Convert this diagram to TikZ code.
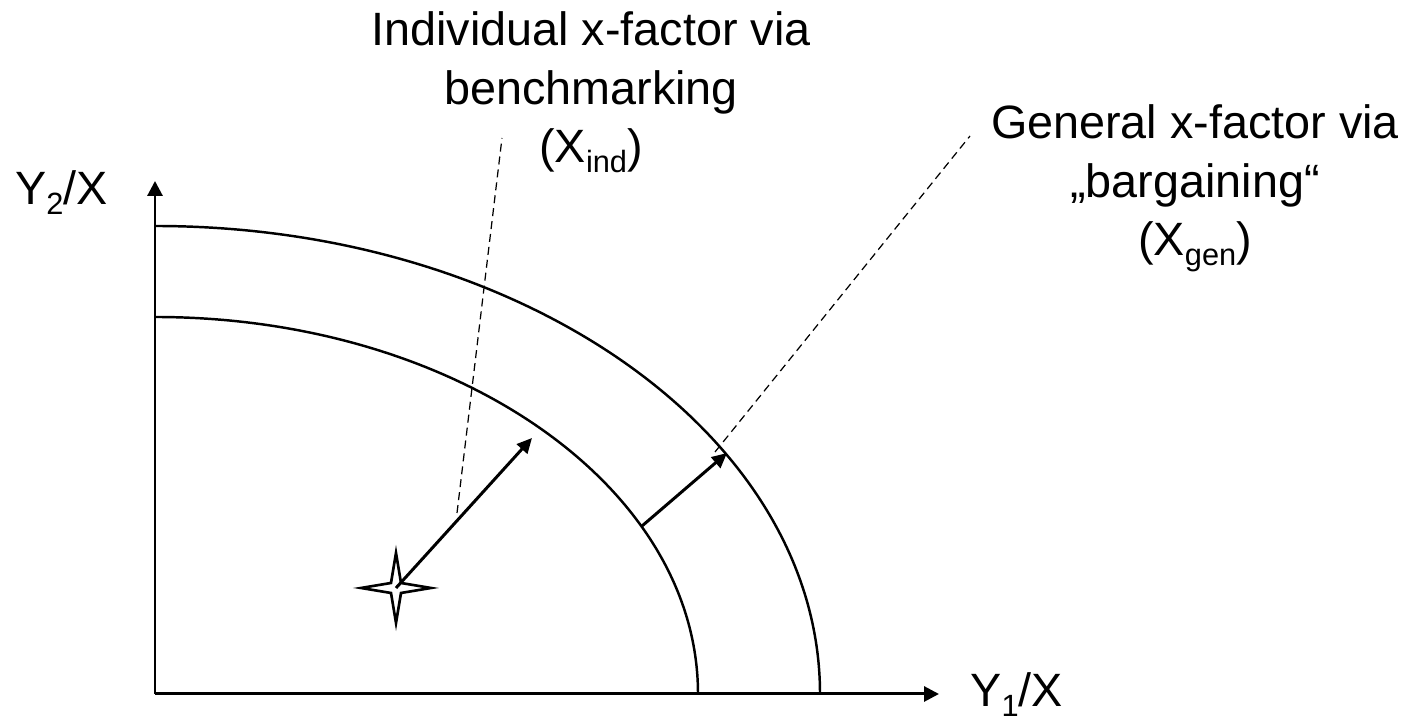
\documentclass[tikz,border=0pt]{standalone}
\usepackage{fontspec}
\setmainfont{Liberation Sans}
\usetikzlibrary{arrows.meta}
\newcommand{\lowsub}[1]{\raisebox{-0.2em}{\fontsize{17.5}{17.5}\selectfont #1}}

\begin{document}
\begin{tikzpicture}[
    axis/.style={line width=1.7pt, -{Triangle[length=0.3cm, width=0.3cm]}},
    curve/.style={line width=1.4pt},
    arr/.style={line width=1.7pt, -{Triangle[length=0.3cm, width=0.28cm]}},
    lead/.style={line width=0.7pt, dash pattern=on 0.16cm off 0.1cm},
    lbl/.style={align=center, font=\fontsize{26.6}{33.5}\selectfont, inner sep=0pt},
    starmark/.style={draw, line width=1.5pt, line join=miter, fill=white}
]
    \useasboundingbox (0,0) rectangle (28.16,14.44);

    % axes
    \coordinate (O) at (3.1,0.56);
    \coordinate (ytip) at (3.1,10.82);
    \coordinate (xtip) at (18.78,0.56);
    \draw[axis] (O) -- (ytip);
    \draw[axis] (O) -- (xtip);
    \node[lbl, anchor=base east] (ylab) at (2.16,10.34) {Y\lowsub{2}/X};
    \node[lbl, anchor=base west] (xlab) at (19.4,0.3) {Y\lowsub{1}/X};

    % frontiers
    \draw[curve] (3.1,8.1) arc[start angle=90, end angle=0, x radius=10.86, y radius=7.54];
    \draw[curve] (3.1,9.92) arc[start angle=90, end angle=0, x radius=13.3, y radius=9.36];

    % firm and shifts
    \coordinate (firm) at (7.92,2.68);
    \draw[starmark] (firm) ++(0,0.7) -- ++(0.1,-0.6) -- ++(0.6,-0.1) -- ++(-0.6,-0.1)
        -- ++(-0.1,-0.6) -- ++(-0.1,0.6) -- ++(-0.6,0.1) -- ++(0.6,0.1) -- cycle;
    \coordinate (ind) at (10.64,5.68);
    \coordinate (gen0) at (12.84,3.92);
    \coordinate (gen) at (14.54,5.38);
    \draw[arr] (firm) -- (ind);
    \draw[arr] (gen0) -- (gen);

    % labels
    \node[lbl, anchor=north] (indlab) at (11.82,14.22) {Individual x-factor via\\benchmarking\\(X\lowsub{ind})};
    \node[lbl, anchor=north] (genlab) at (23.9,12.36) {General x-factor via\\„bargaining“\\(X\lowsub{gen})};
    \coordinate (indfoot) at (9.14,4.18);
    \coordinate (indhead) at (10.04,11.68);
    \coordinate (genfoot) at (14.3,5.4);
    \coordinate (genhead) at (19.4,11.72);
    \draw[lead] (indfoot) -- (indhead);
    \draw[lead] (genfoot) -- (genhead);
\end{tikzpicture}
\end{document}
